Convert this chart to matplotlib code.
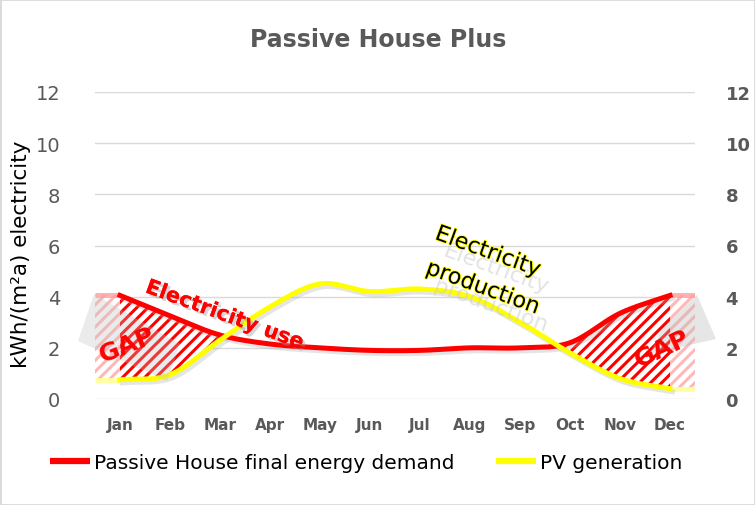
import numpy as np
import matplotlib
matplotlib.use("Agg")
import matplotlib.pyplot as plt
from matplotlib.patches import Polygon, Rectangle
import matplotlib.patheffects as pe

months = ["Jan", "Feb", "Mar", "Apr", "May", "Jun", "Jul", "Aug", "Sep", "Oct", "Nov", "Dec"]
demand = [4.05, 3.25, 2.5, 2.15, 2.0, 1.9, 1.9, 2.0, 2.0, 2.2, 3.35, 4.05]
pv = [0.75, 0.95, 2.3, 3.6, 4.5, 4.2, 4.3, 4.0, 3.0, 1.8, 0.8, 0.4]
yticks = [0, 2, 4, 6, 8, 10, 12]

W, H = 755, 506
plt.rcParams['hatch.linewidth'] = 2.2
fig = plt.figure(figsize=(W / 100, H / 100), dpi=100)
ax = fig.add_axes([95 / W, 1 - 400 / H, 600 / W, 307 / H])


def smooth(y, n=30):
    y = np.asarray(y, float)
    x = np.arange(len(y), dtype=float)
    p = np.concatenate([[2 * y[0] - y[1]], y, [2 * y[-1] - y[-2]]])
    xs, ys = [], []
    for i in range(len(y) - 1):
        p0, p1, p2, p3 = p[i], p[i + 1], p[i + 2], p[i + 3]
        t = np.linspace(0, 1, n, endpoint=False)
        v = 0.5 * ((2 * p1) + (-p0 + p2) * t + (2 * p0 - 5 * p1 + 4 * p2 - p3) * t ** 2
                   + (-p0 + 3 * p1 - 3 * p2 + p3) * t ** 3)
        xs.append(x[i] + t)
        ys.append(v)
    xs.append([x[-1]])
    ys.append([y[-1]])
    return np.concatenate(xs), np.concatenate(ys)


xd, yd = smooth(demand)
xp, yp = smooth(pv)

ax.set_xlim(-0.5, 11.5)
ax.set_ylim(0, 12)
for t in yticks:
    ax.axhline(t, color="#d9d9d9", lw=1, zorder=0)

# hatched gap areas
mask = yd > yp
left = mask & (xd < 5)
right = mask & (xd > 5)
for m in (left, right):
    ax.fill_between(xd, yp, yd, where=m, facecolor="white", edgecolor="#ff0000",
                    hatch="///", linewidth=0, zorder=1)
# faded extensions
for x0, x1, i in ((-0.5, 0, 0), (11, 11.5, 11)):
    ax.fill_between([x0, x1], [pv[i]] * 2, [demand[i]] * 2, facecolor="white",
                    edgecolor="#ffb8b8", hatch="///", linewidth=0, zorder=1)
    ax.plot([x0, x1], [demand[i]] * 2, color="#ff9c9c", lw=3.6, alpha=0.8, solid_capstyle="butt", zorder=2)
    ax.plot([x0, x1], [pv[i]] * 2, color="#ffff99", lw=3.6, alpha=0.9, solid_capstyle="butt", zorder=2)

# shadows
ax.plot(xd + 0.05, yd - 0.12, color="#aaaaaa", lw=3.6, alpha=0.3, zorder=2)
ax.plot(xp + 0.05, yp - 0.12, color="#aaaaaa", lw=3.6, alpha=0.3, zorder=2)
l1, = ax.plot(xd, yd, color="#ff0000", lw=3.6, zorder=3, label="Passive House final energy demand")
l2, = ax.plot(xp, yp, color="#ffff00", lw=3.6, zorder=3, label="PV generation")

for s in ax.spines.values():
    s.set_visible(False)
ax.set_xticks(range(12))
ax.set_xticklabels(months, fontsize=11, fontweight="bold", color="#595959")
ax.tick_params(axis="x", length=0, pad=13)
ax.set_yticks(yticks)
ax.set_yticklabels([str(t) for t in yticks], fontsize=14, color="#595959")
ax.tick_params(axis="y", length=0, pad=25)
ax2 = ax.twinx()
ax2.set_ylim(0, 12)
ax2.set_yticks(yticks)
ax2.set_yticklabels([str(t) for t in yticks], fontsize=13, fontweight="bold", color="#595959")
ax2.tick_params(axis="y", length=0, pad=22)
for s in ax2.spines.values():
    s.set_visible(False)

fig.text(21 / W, 1 - 254 / H, "kWh/(m²a) electricity", rotation=90, ha="center", va="center",
         fontsize=15.5, color="black")
fig.text(378 / W, 1 - 40 / H, "Passive House Plus", ha="center", va="center",
         fontsize=17, fontweight="bold", color="#595959")

# gray 3D arrow shapes
def px(pts):
    return [(x / W, 1 - y / H) for x, y in pts]

fig.patches.append(Polygon(px([(78, 342), (94, 295), (180, 345), (167, 382)]), closed=True,
                           transform=fig.transFigure, facecolor="#c0c0c0", alpha=0.3,
                           edgecolor="none", zorder=4))
fig.patches.append(Polygon(px([(697, 296), (716, 340), (650, 355), (662, 330)]), closed=True,
                           transform=fig.transFigure, facecolor="#b8b8b8", alpha=0.35,
                           edgecolor="none", zorder=4))

# annotations
fig.text(225 / W, 1 - 316 / H, "Electricity use", ha="center", va="center", rotation=-20,
         fontsize=15, fontweight="bold", color="#ff0000", zorder=6,
         path_effects=[pe.withSimplePatchShadow(offset=(2, -2), shadow_rgbFace="#999999", alpha=0.4), pe.Normal()])
fig.text(127 / W, 1 - 346 / H, "GAP", ha="center", va="center", rotation=22,
         fontsize=18, fontweight="bold", color="#ff0000", zorder=6)
fig.text(662 / W, 1 - 349 / H, "GAP", ha="center", va="center", rotation=25,
         fontsize=18, fontweight="bold", color="#ff0000", zorder=6)
for txt, (cx, cy) in (("Electricity", (488, 253)), ("production", (483, 289))):
    fig.text((cx + 8) / W, 1 - (cy + 17) / H, txt, ha="center", va="center", rotation=-20,
             fontsize=16, color="#cccccc", alpha=0.55, zorder=5)
    fig.text(cx / W, 1 - cy / H, txt, ha="center", va="center", rotation=-20,
             fontsize=16, color="black", zorder=6,
             path_effects=[pe.withStroke(linewidth=1.2, foreground="#ffff00")])

leg = fig.legend(handles=[l1, l2], loc="center", bbox_to_anchor=(366 / W, 1 - 464 / H),
                 ncol=2, frameon=False, fontsize=14.5, handlelength=2.0, handletextpad=0.2,
                 columnspacing=2.05)
for h in leg.legend_handles:
    h.set_linewidth(4.5)
    h.set_solid_capstyle("butt")

fig.patches.append(Rectangle((0, 0), 1, 1, transform=fig.transFigure, fill=False,
                             edgecolor="#d9d9d9", lw=2, zorder=10))
fig.savefig("out.png", dpi=100)
